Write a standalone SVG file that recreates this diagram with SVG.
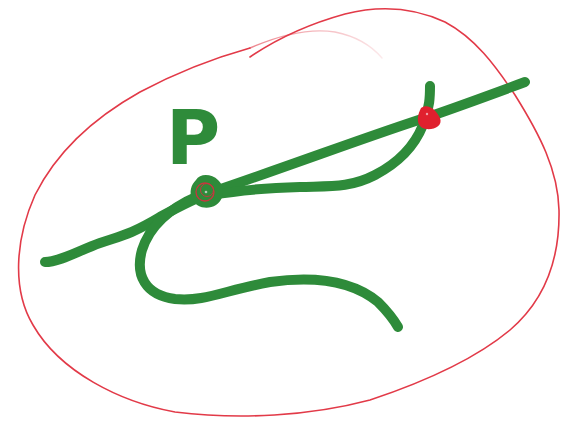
<svg xmlns="http://www.w3.org/2000/svg" width="563" height="423" viewBox="0 0 563 423">
<style>
.g{fill:none;stroke:#2e8b3a;stroke-width:10;stroke-linecap:round;stroke-linejoin:round}
.loop{fill:none;stroke:#e23a48;stroke-width:1.6;stroke-linecap:round}
</style>
<defs>
<linearGradient id="fade" gradientUnits="userSpaceOnUse" x1="200" y1="0" x2="385" y2="0">
<stop offset="0" stop-color="#e23a48" stop-opacity="0.8"/>
<stop offset="1" stop-color="#e23a48" stop-opacity="0.1"/>
</linearGradient>
</defs>
<rect width="563" height="423" fill="#fff"/>
<g id="region">
<path class="loop" d="M250,57 C275,40 305,25 345,14 C380,5 415,8 445,22 C475,38 495,65 515,95 C540,135 558,170 559,210 C560,260 545,300 510,330 C480,355 430,380 370,400 C310,416 240,420 175,412 C120,402 60,372 33,325 C12,290 15,240 35,195 C55,155 90,120 140,92 C185,68 225,55 250,48"/>
<path d="M250,48 C280,35 310,28 335,32 C355,36 370,44 382,58" fill="none" stroke="url(#fade)" stroke-width="1.4" stroke-linecap="round"/>
</g>
<g id="connectors">
<path id="line" class="g" d="M45,262 C60,262 80,250 100,243 C120,236 130,235 160,217 C180,206 195,198 215,191 C300,162 380,132 428,117 C460,106 490,95 525,82"/>
<path id="curve-lower" class="g" d="M198,196 C170,208 150,225 142,250 C135,275 145,295 175,299 C205,302 225,290 270,282 C320,275 355,283 378,302 C388,312 394,320 398,327"/>
<path id="curve-upper" class="g" d="M212,195 C240,190 265,188 300,187 C330,186 350,188 375,175 C400,162 415,145 423,125 C430,108 430,95 430,86"/>
</g>
<g id="point-P">
<path d="M196,180 C200,173 212,174 218,180 C226,187 224,200 216,205 C208,210 196,208 192,199 C189,192 191,185 196,180 Z" fill="#2e8b3a"/>
<circle cx="205" cy="192" r="9" fill="none" stroke="#c9353f" stroke-width="1.3"/>
<circle cx="207" cy="190" r="6.5" fill="none" stroke="#c9353f" stroke-width="1"/>
<circle cx="206" cy="192" r="1.3" fill="#b8c8b8"/>
</g>
<g id="point-A">
<path d="M421,108 C428,103 436,110 440,118 C443,126 434,130 426,129 C418,128 415,120 421,108 Z" fill="#e0202e"/>
<circle cx="427" cy="114" r="1.2" fill="#f0a0a8"/>
</g>
<g id="label-P">
<text x="166" y="164" font-family="DejaVu Sans, sans-serif" font-weight="bold" font-size="74" fill="#2e8b3a">P</text>
</g>
</svg>
